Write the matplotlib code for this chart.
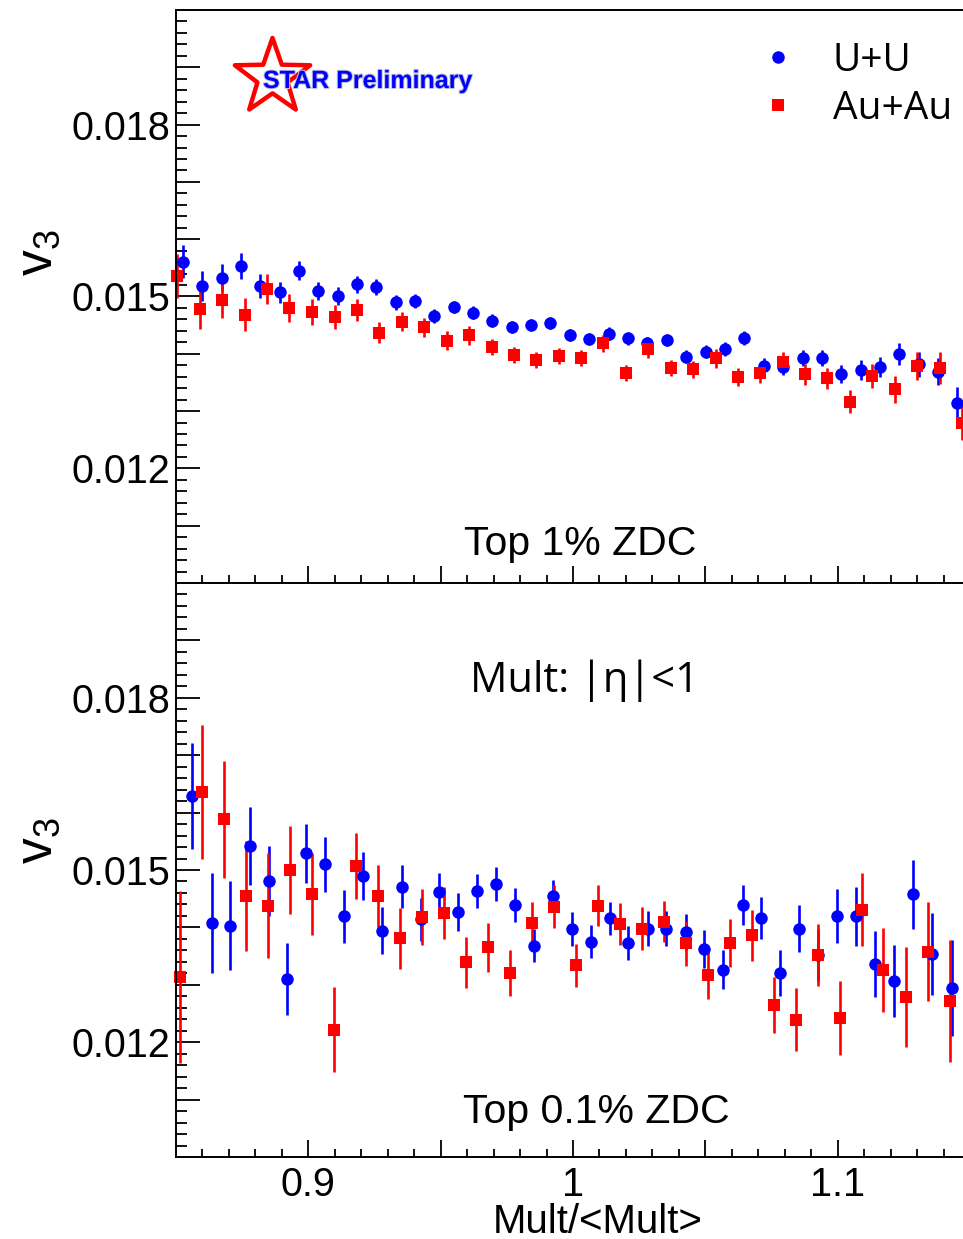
import matplotlib
matplotlib.use('Agg')
import matplotlib.pyplot as plt
import numpy as np
from matplotlib import patheffects
from matplotlib.lines import Line2D
from matplotlib.path import Path

plt.rcParams['font.family'] = ['Liberation Sans', 'DejaVu Sans']
plt.rcParams['mathtext.default'] = 'regular'

# Top 1% ZDC
uu_top_x = [0.8527, 0.8599, 0.8672, 0.8744, 0.8817, 0.8892, 0.8964, 0.9037, 0.9111, 0.9184,
            0.9257, 0.9331, 0.9404, 0.9476, 0.9549, 0.9622, 0.9695, 0.9768, 0.9841, 0.9914,
            0.9989, 1.0062, 1.0136, 1.0209, 1.0281, 1.0354, 1.0428, 1.0502, 1.0574, 1.0647,
            1.0721, 1.0794, 1.0869, 1.0941, 1.1014, 1.1087, 1.1160, 1.1233, 1.1306, 1.1379, 1.1452]
uu_top_v3 = [0.01561, 0.01519, 0.01533, 0.01553, 0.01519, 0.01507, 0.01545, 0.01510, 0.01501, 0.01521,
             0.01516, 0.01490, 0.01492, 0.01466, 0.01482, 0.01472, 0.01458, 0.01447, 0.01450, 0.01454,
             0.01433, 0.01426, 0.01435, 0.01427, 0.01419, 0.01424, 0.01395, 0.01404, 0.01408, 0.01428,
             0.01379, 0.01377, 0.01392, 0.01392, 0.01365, 0.01372, 0.01377, 0.01399, 0.01382, 0.01369, 0.01315]
uu_top_err = [0.00029, 0.00026, 0.00024, 0.00023, 0.00021, 0.00019, 0.00017, 0.00016, 0.00016, 0.00015,
              0.00014, 0.00013, 0.00012, 0.00012, 0.00011, 0.00011, 0.00011, 0.00011, 0.00011, 0.00011,
              0.00011, 0.00011, 0.00011, 0.00011, 0.00011, 0.00011, 0.00011, 0.00011, 0.00012, 0.00012,
              0.00013, 0.00014, 0.00014, 0.00014, 0.00016, 0.00017, 0.00018, 0.00019, 0.00022, 0.00023, 0.00027]

auau_top_x = [0.8505, 0.8590, 0.8675, 0.8760, 0.8845, 0.8928, 0.9015, 0.9099, 0.9184, 0.9268,
              0.9354, 0.9437, 0.9523, 0.9608, 0.9693, 0.9777, 0.9861, 0.9946, 1.0029, 1.0115,
              1.0200, 1.0285, 1.0369, 1.0455, 1.0539, 1.0624, 1.0707, 1.0793, 1.0877, 1.0961,
              1.1047, 1.1131, 1.1216, 1.1300, 1.1386, 1.1469]
auau_top_v3 = [0.01536, 0.01479, 0.01494, 0.01468, 0.01513, 0.01480, 0.01473, 0.01464, 0.01477, 0.01437,
               0.01456, 0.01446, 0.01423, 0.01432, 0.01412, 0.01398, 0.01390, 0.01396, 0.01393, 0.01418,
               0.01366, 0.01408, 0.01376, 0.01373, 0.01392, 0.01359, 0.01366, 0.01386, 0.01364, 0.01357,
               0.01316, 0.01362, 0.01338, 0.01379, 0.01376, 0.01279]
auau_top_err = [0.00038, 0.00035, 0.00031, 0.00029, 0.00026, 0.00024, 0.00023, 0.00021, 0.00019, 0.00018,
                0.00017, 0.00016, 0.00016, 0.00016, 0.00014, 0.00014, 0.00014, 0.00014, 0.00014, 0.00014,
                0.00014, 0.00016, 0.00014, 0.00015, 0.00016, 0.00016, 0.00017, 0.00018, 0.00018, 0.00019,
                0.00020, 0.00021, 0.00024, 0.00025, 0.00028, 0.00030]

# Top 0.1% ZDC
uu_bot_x = [0.8559, 0.8635, 0.8705, 0.8778, 0.8850, 0.8920, 0.8992, 0.9064, 0.9135, 0.9207,
            0.9278, 0.9353, 0.9424, 0.9495, 0.9567, 0.9637, 0.9709, 0.9781, 0.9853, 0.9924,
            0.9995, 1.0067, 1.0140, 1.0209, 1.0285, 1.0351, 1.0426, 1.0496, 1.0568, 1.0641,
            1.0712, 1.0782, 1.0855, 1.0927, 1.0999, 1.1070, 1.1142, 1.1214, 1.1286, 1.1358, 1.1431]
uu_bot_v3 = [0.01629, 0.01408, 0.01403, 0.01542, 0.01481, 0.01310, 0.01529, 0.01510, 0.01419, 0.01490,
             0.01394, 0.01471, 0.01414, 0.01462, 0.01427, 0.01463, 0.01476, 0.01439, 0.01368, 0.01455,
             0.01397, 0.01375, 0.01416, 0.01373, 0.01398, 0.01398, 0.01392, 0.01362, 0.01326, 0.01439,
             0.01416, 0.01320, 0.01398, 0.01352, 0.01420, 0.01419, 0.01336, 0.01307, 0.01458, 0.01354, 0.01294]
uu_bot_err = [0.00092, 0.00087, 0.00077, 0.00068, 0.00061, 0.00063, 0.00052, 0.00048, 0.00047, 0.00042,
              0.00041, 0.00038, 0.00037, 0.00033, 0.00033, 0.00030, 0.00030, 0.00029, 0.00029, 0.00028,
              0.00030, 0.00029, 0.00029, 0.00030, 0.00031, 0.00031, 0.00031, 0.00033, 0.00034, 0.00035,
              0.00037, 0.00040, 0.00041, 0.00045, 0.00047, 0.00052, 0.00057, 0.00063, 0.00060, 0.00071, 0.00084]

auau_bot_x = [0.8515, 0.8599, 0.8681, 0.8765, 0.8846, 0.8930, 0.9014, 0.9097, 0.9179, 0.9263,
              0.9346, 0.9429, 0.9512, 0.9594, 0.9678, 0.9761, 0.9844, 0.9927, 1.0010, 1.0093,
              1.0178, 1.0260, 1.0344, 1.0426, 1.0509, 1.0593, 1.0675, 1.0759, 1.0842, 1.0925,
              1.1008, 1.1091, 1.1173, 1.1257, 1.1341, 1.1424]
auau_bot_v3 = [0.01313, 0.01636, 0.01588, 0.01455, 0.01438, 0.01500, 0.01458, 0.01222, 0.01507, 0.01455,
               0.01381, 0.01418, 0.01425, 0.01339, 0.01365, 0.01320, 0.01407, 0.01436, 0.01334, 0.01438,
               0.01406, 0.01398, 0.01410, 0.01372, 0.01317, 0.01373, 0.01386, 0.01265, 0.01239, 0.01352,
               0.01242, 0.01431, 0.01326, 0.01279, 0.01358, 0.01272]
auau_bot_err = [0.00150, 0.00117, 0.00102, 0.00096, 0.00092, 0.00076, 0.00071, 0.00074, 0.00058, 0.00054,
                0.00053, 0.00049, 0.00045, 0.00045, 0.00042, 0.00040, 0.00038, 0.00037, 0.00037, 0.00035,
                0.00036, 0.00037, 0.00036, 0.00040, 0.00041, 0.00042, 0.00044, 0.00049, 0.00055, 0.00054,
                0.00064, 0.00063, 0.00073, 0.00087, 0.00087, 0.00106]

W, H = 963, 1239
fig = plt.figure(figsize=(W / 100, H / 100), dpi=100)

def fx(px):
    return px / W

def fy(py):
    return 1 - py / H

ax_top = fig.add_axes([fx(176), fy(583), fx(970) - fx(176), fy(10) - fy(583)])
ax_bot = fig.add_axes([fx(176), fy(1157), fx(970) - fx(176), fy(583) - fy(1157)])

BLUE = '#0000ff'
RED = '#ff0000'

def draw(ax, x, y, e, color, marker):
    ax.errorbar(x, y, yerr=e, fmt=marker, color=color, ms=9, mew=0,
                elinewidth=1.9, capsize=1.8, capthick=2.0, clip_on=False)

def style(ax, xlabels):
    ax.set_xlim(0.85, 1.15)
    ax.set_ylim(0.010, 0.020)
    ax.set_xticks([0.9, 0.95, 1.0, 1.05, 1.1],
                  ['0.9', '', '1', '', '1.1'] if xlabels else [''] * 5)
    ax.set_xticks(np.arange(0.86, 1.15, 0.01), minor=True)
    ax.set_yticks(np.arange(0.011, 0.0195, 0.001),
                  ['', '0.012', '', '', '0.015', '', '', '0.018', ''])
    ax.set_yticks(np.arange(0.0102, 0.0199, 0.0002), minor=True)
    ax.tick_params(direction='in', which='both', top=False, right=False,
                   labelsize=28.5, width=1.3)
    ax.tick_params(axis='x', which='major', length=12, pad=6.5)
    ax.tick_params(axis='x', which='minor', length=6)
    ax.tick_params(axis='y', which='major', length=17, pad=4.3)
    ax.tick_params(axis='y', which='minor', length=8)
    for s in ax.spines.values():
        s.set_linewidth(1.4)

draw(ax_top, uu_top_x, uu_top_v3, uu_top_err, BLUE, 'o')
draw(ax_top, auau_top_x, auau_top_v3, auau_top_err, RED, 's')
draw(ax_bot, uu_bot_x, uu_bot_v3, uu_bot_err, BLUE, 'o')
draw(ax_bot, auau_bot_x, auau_bot_v3, auau_bot_err, RED, 's')

style(ax_top, False)
style(ax_bot, True)

# axis titles
fig.text(fx(38), fy(253), r'$v_3$', rotation=90, ha='center', va='center', fontsize=37)
fig.text(fx(38), fy(841), r'$v_3$', rotation=90, ha='center', va='center', fontsize=37)
fig.text(fx(598), fy(1233), 'Mult/<Mult>', ha='center', va='baseline', fontsize=29)

# panel labels
fig.text(fx(580), fy(555), 'Top 1% ZDC', ha='center', va='baseline', fontsize=29.5)
fig.text(fx(596), fy(1123), 'Top 0.1% ZDC', ha='center', va='baseline', fontsize=29.5)
fig.text(fx(585), fy(692), 'Mult: |η|<1', ha='center', va='baseline', fontsize=30,
         family=['Open Sans', 'DejaVu Sans'])

# legend
handles = [Line2D([], [], ls='none', marker='o', color=BLUE, ms=9, mew=0),
           Line2D([], [], ls='none', marker='s', color=RED, ms=9, mew=0)]
ax_top.legend(handles, ['U+U', 'Au+Au'], loc='upper left',
              bbox_to_anchor=(fx(759), fy(42)), bbox_transform=fig.transFigure,
              frameon=False, prop={'family': 'Open Sans', 'size': 28},
              handlelength=1.0, handletextpad=0.9, borderpad=0, borderaxespad=0,
              labelspacing=0.25)

# STAR Preliminary logo
star = Path.unit_regular_star(5, 0.4)
ax_top.plot([fx(272)], [fy(77)], transform=fig.transFigure, marker=star, ms=57,
            mfc='white', mec=RED, mew=3.2, clip_on=False)
fig.text(fx(263), fy(88), 'STAR Preliminary', color=BLUE, fontsize=18, fontweight='bold',
         va='baseline', ha='left',
         path_effects=[patheffects.withStroke(linewidth=1.5, foreground='#c0c0dc')])

fig.savefig('out.png', dpi=100)
